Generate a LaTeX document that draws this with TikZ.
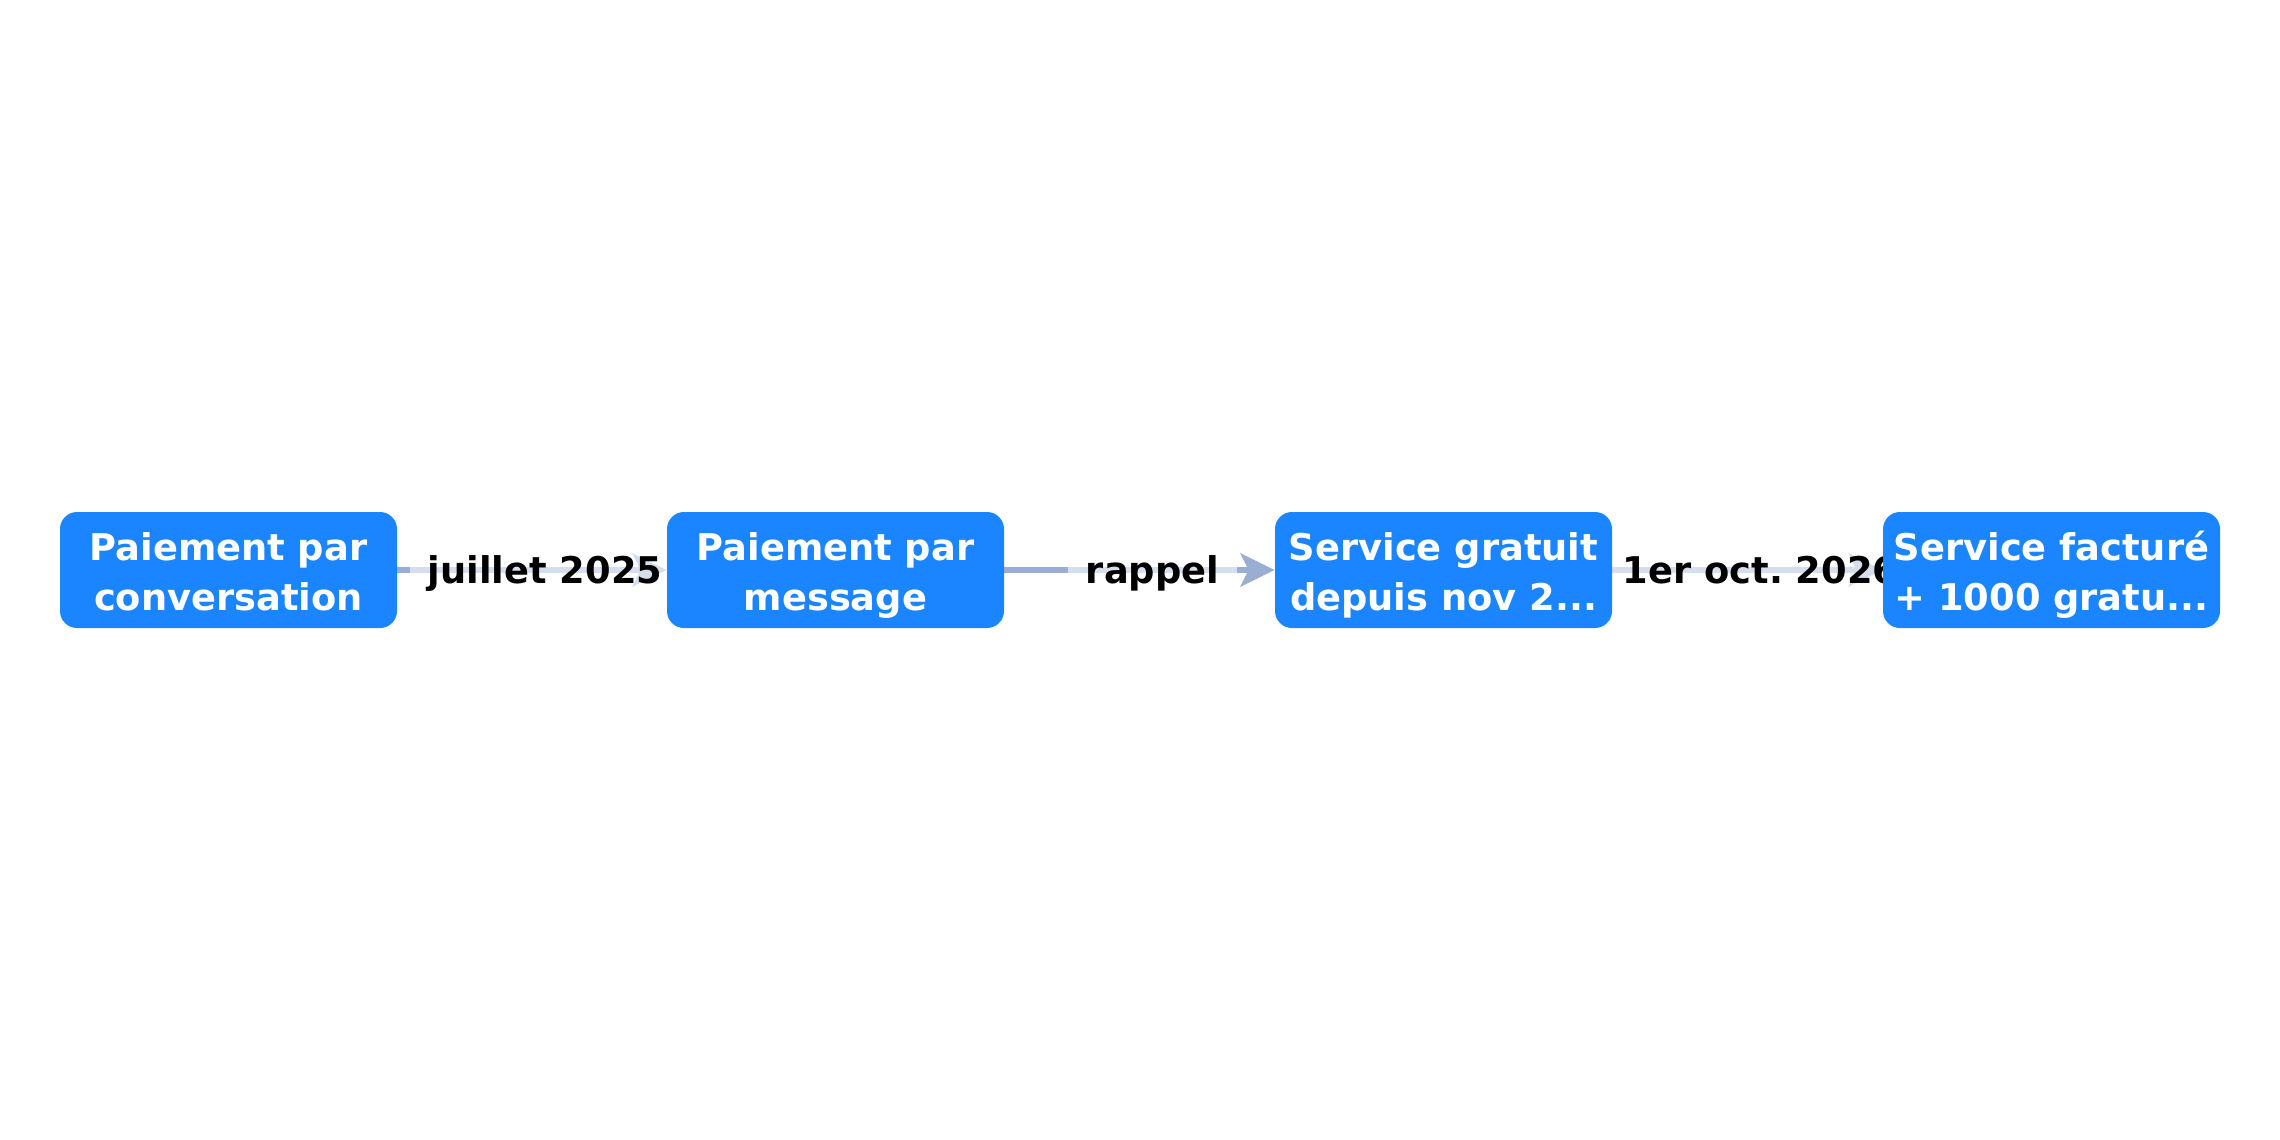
\documentclass[tikz,border=0pt]{standalone}
\usepackage{fontspec}
\setmainfont{DejaVu Sans}
\usetikzlibrary{arrows.meta}
\definecolor{boxblue}{HTML}{1B85FF}
\definecolor{edgecol}{HTML}{9AAED4}
\pgfdeclarelayer{bglayer}
\pgfdeclarelayer{edgelayer}
\pgfsetlayers{bglayer,edgelayer,main}
\newcommand{\ts}{\rule[-7.5pt]{0pt}{30pt}}
\newcommand{\ls}{\strut}
\frenchspacing
\tikzset{
  stepbox/.style={draw=none, fill=boxblue, rounded corners=8.5pt,
    minimum width=168.5pt, minimum height=58pt, inner sep=0pt,
    text=white, align=center, font=\fontsize{18.4}{25}\selectfont\bfseries\frenchspacing},
  flow/.style={draw=edgecol, line width=3pt,
    -{Stealth[length=17pt, width=16.5pt, inset=4pt]}},
  lbl/.style={fill=white, fill opacity=0.6, text opacity=1, text=black,
    inner xsep=9pt, inner ysep=3pt, anchor=base, xshift=6.5pt, yshift=-6.5pt,
    font=\fontsize{18.4}{24.5}\selectfont\bfseries\frenchspacing}
}
\begin{document}
\begin{tikzpicture}[x=0.5pt, y=-0.5pt]
\begin{pgfonlayer}{bglayer}
\fill[white] (0,0) rectangle (2280,1140);
\end{pgfonlayer}
\useasboundingbox (0,0) rectangle (2280,1140);
\node[stepbox] (n1) at (228.5,570) {\ts Paiement par\\\ls conversation};
\node[stepbox] (n2) at (835.5,570) {\ts Paiement par\\\ls message};
\node[stepbox] (n3) at (1443.5,570) {\ts Service gratuit\\\ls depuis nov 2...};
\node[stepbox] (n4) at (2051.5,570) {\ts Service facturé\\\ls + 1000 gratu...};
\begin{pgfonlayer}{edgelayer}
\draw[flow] (n1) -- node[lbl] {juillet 2025} (n2);
\draw[flow] (n2) -- node[lbl] {rappel} (n3);
\draw[flow] (n3) -- node[lbl] {1er oct. 2026} (n4);
\end{pgfonlayer}
\end{tikzpicture}
\end{document}
